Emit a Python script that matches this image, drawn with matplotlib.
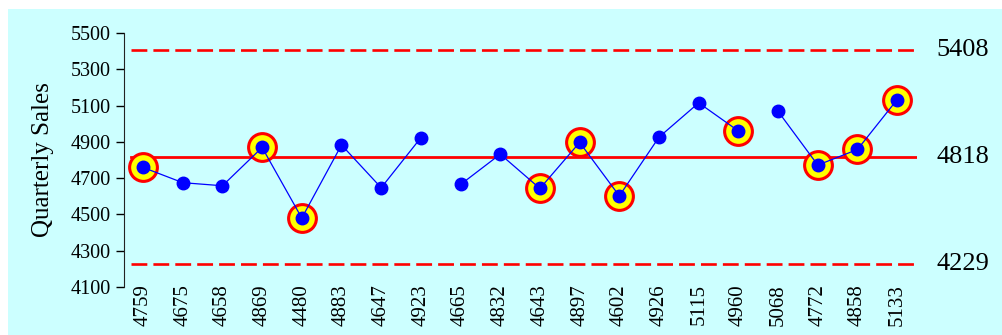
import matplotlib
matplotlib.use("Agg")
import matplotlib.pyplot as plt
from matplotlib.patches import Rectangle
import numpy as np

# Quarterly sales, grouped into three runs (line breaks between groups)
sales = [4759, 4675, 4658, 4869, 4480, 4883, 4647, 4923,
         4665, 4832, 4643, 4897, 4602, 4926, 5115, 4960,
         5068, 4772, 4858, 5133]
group_breaks = [8, 16]
flagged = [0, 3, 4, 10, 11, 12, 15, 17, 18, 19]

center_line = 4818
upper_limit = 5408
lower_limit = 4229
y_ticks = [4100, 4300, 4500, 4700, 4900, 5100, 5300, 5500]

plt.rcParams['font.family'] = ['Liberation Serif', 'DejaVu Serif']

fig = plt.figure(figsize=(10.02, 3.35), dpi=100)
fig.patch.set_facecolor('white')
fig.patches.append(Rectangle((8 / 1002, 0), 1, 1 - 9 / 335,
                             transform=fig.transFigure, facecolor='#ccffff',
                             edgecolor='none', zorder=-10))

ax = fig.add_axes([124 / 1002, 1 - 287 / 335, (917 - 124) / 1002, (287 - 33) / 335])
ax.set_facecolor('none')

x = np.arange(len(sales))
xmin, xmax = -0.48, 19.5
ax.set_xlim(xmin, xmax)
ax.set_ylim(4100, 5500)

# control limits
def frac(v):
    return (v - xmin) / (xmax - xmin)

ax.axhline(center_line, xmin=frac(-0.3), xmax=1, color='red', lw=2.0, zorder=2)
for lim in (upper_limit, lower_limit):
    ax.axhline(lim, xmin=frac(-0.3), xmax=1, color='red', lw=1.9,
               dashes=(6.0, 2.3), zorder=2)

# flagged points
fx = [x[i] for i in flagged]
fy = [sales[i] for i in flagged]
ax.plot(fx, fy, 'o', ms=20, mfc='yellow', mec='red', mew=2.2, ls='none', zorder=3)

# connecting lines per group
starts = [0] + group_breaks
ends = group_breaks + [len(sales)]
for s, e in zip(starts, ends):
    ax.plot(x[s:e], sales[s:e], '-', color='blue', lw=0.9, zorder=4)
ax.plot(x, sales, 'o', ms=9, color='blue', ls='none', zorder=5)

# limit labels on the right
for v in (upper_limit, center_line, lower_limit):
    ax.text(1.025, v, str(v), transform=ax.get_yaxis_transform(),
            ha='left', va='center', fontsize=19, color='black')

ax.set_yticks(y_ticks)
ax.set_yticklabels([str(t) for t in y_ticks], fontsize=14.5)
ax.set_xticks(x)
ax.set_xticklabels([str(v) for v in sales], rotation=90, fontsize=15)
ax.tick_params(axis='x', length=0, pad=-2)
ax.tick_params(axis='y', length=6, width=1, direction='out')
for side in ('top', 'right', 'bottom'):
    ax.spines[side].set_visible(False)
ax.spines['left'].set_color('#222222')
ax.set_ylabel('Quarterly Sales', fontsize=18, labelpad=12)

fig.savefig('out.png', dpi=100, facecolor='white')
